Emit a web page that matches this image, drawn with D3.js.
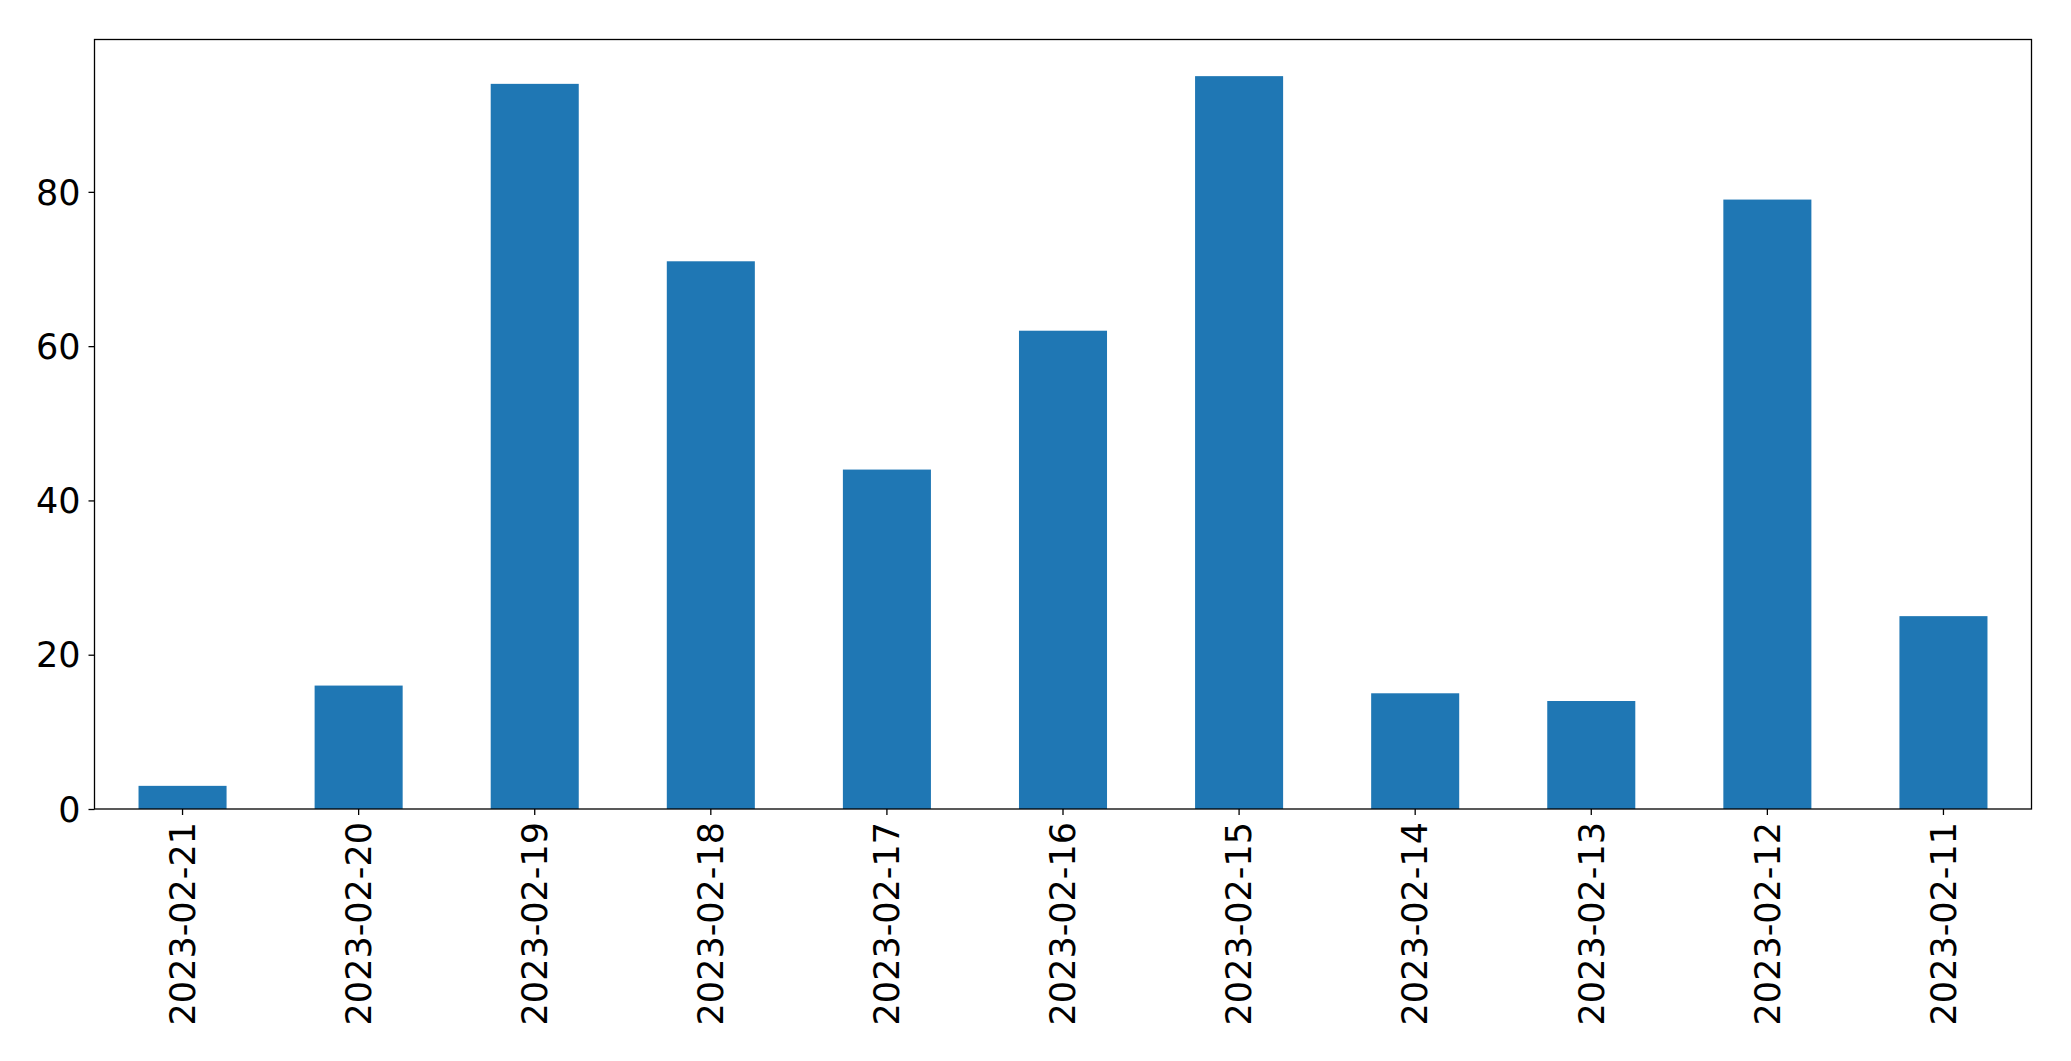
<!DOCTYPE html>
<html><head><meta charset="utf-8">
<script src="https://cdn.jsdelivr.net/npm/d3@7"></script>
<style>
html,body{margin:0;padding:0;background:#fff;}
text{font-family:"DejaVu Sans",sans-serif;fill:#000;}
</style></head>
<body>
<script>
const categories = ["2023-02-21","2023-02-20","2023-02-19","2023-02-18","2023-02-17","2023-02-16","2023-02-15","2023-02-14","2023-02-13","2023-02-12","2023-02-11"];
const values = [3, 16, 94, 71, 44, 62, 95, 15, 14, 79, 25];
const yTicks = [0, 20, 40, 60, 80];

const W = 2071, H = 1061;
const mLeft = 94.5, mRight = 2031.5, mTop = 39.5, mBottom = 809;
const fontSize = 35;

const svg = d3.select("body").append("svg").attr("width", W).attr("height", H);

const x = d3.scaleBand().domain(categories).range([mLeft, mRight]).paddingInner(0.5).paddingOuter(0.25);
const y = d3.scaleLinear().domain([0, 99.75]).range([mBottom, mTop]);

svg.append("g").selectAll("rect").data(values).join("rect")
  .attr("x", (d, i) => x(categories[i]))
  .attr("width", x.bandwidth())
  .attr("y", d => y(d))
  .attr("height", d => y(0) - y(d))
  .attr("fill", "#1f77b4");

const yAxis = d3.axisLeft(y).tickValues(yTicks).tickSize(6).tickPadding(8).tickFormat(d3.format("d"));
const gy = svg.append("g").attr("transform", `translate(${mLeft},0)`).call(yAxis);
gy.select(".domain").remove();
gy.selectAll("line").attr("stroke", "#000").attr("stroke-width", 1.3);
gy.selectAll("text").attr("font-size", fontSize).attr("font-family", "DejaVu Sans").attr("dy", "0.35em");

const xAxis = d3.axisBottom(x).tickSize(6).tickPadding(0);
const gx = svg.append("g").attr("transform", `translate(0,${mBottom})`).call(xAxis);
gx.select(".domain").remove();
gx.selectAll("line").attr("stroke", "#000").attr("stroke-width", 1.3);
gx.selectAll("text")
  .attr("font-size", fontSize).attr("font-family", "DejaVu Sans")
  .attr("text-anchor", "end")
  .attr("transform", "translate(0,13) rotate(-90)")
  .attr("x", 0).attr("y", 0).attr("dy", "0.35em");

svg.append("rect").attr("x", mLeft).attr("y", mTop).attr("width", mRight - mLeft).attr("height", mBottom - mTop)
  .attr("fill", "none").attr("stroke", "#000").attr("stroke-width", 1.3);
</script>
</body></html>
